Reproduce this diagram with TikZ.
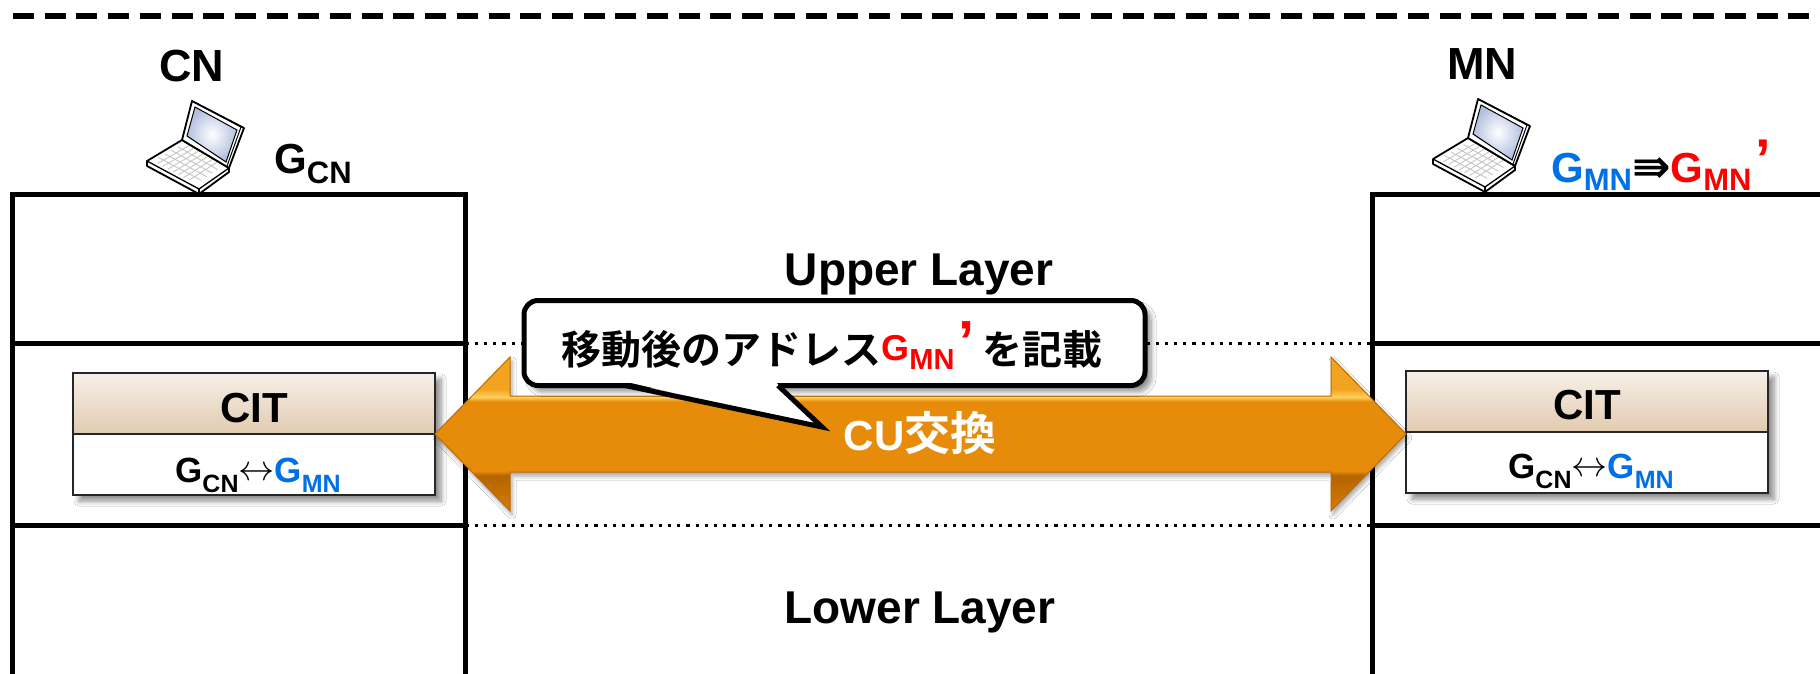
\documentclass[tikz,border=0pt]{standalone}
\usepackage{graphicx}
\usepackage{fontspec}
\setmainfont{Liberation Sans}
\newfontfamily\cjk{Noto Sans CJK JP}[BoldFont={Noto Sans CJK JP Bold}]
\newfontfamily\arrowfont{DejaVu Sans}
\usetikzlibrary{calc,shadows.blur}

\newcommand\setfs[1]{\fontsize{#1}{#1}\selectfont}
% lowered subscript: drop, size, text
\newcommand\subtxt[3]{\raisebox{-#1pt}{\setfs{#2}#3}}
% large prime mark after an address
\newcommand\bigprime[2]{\raisebox{#2pt}{\setfs{#1}’}}

\definecolor{gblue}{RGB}{0,112,230}
\definecolor{gred}{RGB}{255,0,0}
\definecolor{citTop}{RGB}{246,240,232}
\definecolor{citBot}{RGB}{226,202,176}
\definecolor{screenBlue}{RGB}{178,192,222}
\definecolor{arrowLow}{RGB}{214,124,6}
\definecolor{arrowDeep}{RGB}{180,100,0}
\definecolor{arrowMid}{RGB}{230,139,10}
\definecolor{arrowHi}{RGB}{255,208,95}
\definecolor{arrowTop}{RGB}{242,163,32}
\definecolor{arrowEdge}{RGB}{190,108,0}

% vertical shading of the exchange arrow (path box = 25bp..75bp)
\pgfdeclareverticalshading{cuarrow}{100bp}{%
  color(0bp)=(arrowLow); color(25bp)=(arrowLow);
  color(36.5bp)=(arrowDeep); color(38bp)=(arrowMid);
  color(60.5bp)=(arrowMid); color(62bp)=(arrowHi);
  color(64.5bp)=(arrowTop); color(75bp)=(arrowTop); color(100bp)=(arrowTop)}

\tikzset{
  laptop/.pic={
    % keyboard deck
    \filldraw[fill=white, draw=black, line width=1.8, line join=round]
      (0,61) -- (35,40) -- (82,68) -- (82,72) -- (52,94) -- (0,66) -- cycle;
    \draw[line width=1.3, line join=round] (0,61) -- (52,89) -- (82,68);
    \draw[line width=1.3] (52,89) -- (52,94);
    \foreach \t in {0.2,0.4,0.6,0.8}
      \draw[gray!45, line width=0.9] ($(37,43)!\t!(5,61)$) -- ($(76,66)!\t!(49,84)$);
    \foreach \t in {0.12,0.24,0.36,0.48,0.60,0.72,0.84}
      \draw[gray!45, line width=0.9] ($(37,43)!\t!(76,66)$) -- ($(5,61)!\t!(49,84)$);
    % lid with screen
    \filldraw[fill=white, draw=black, line width=1.8, line join=round]
      (35,40) -- (45,1) -- (97,28) -- (82,68) -- cycle;
    \draw[line width=1] (47,2) -- (94,27) -- (80,66);
    \shade[inner color=white, outer color=screenBlue]
      (40,36) -- (48,7) -- (90,30) -- (79,62) -- cycle;
    \draw[line width=1] (40,36) -- (48,7) -- (90,30) -- (79,62) -- cycle;
  },
  layer/.style={line width=5, line cap=rect},
  guide/.style={line width=3, dash pattern=on 3.3pt off 5.9pt},
  hostname/.style={anchor=base, inner sep=0, font=\bfseries\setfs{45}},
  layerlbl/.style={anchor=base, inner sep=0, font=\bfseries\setfs{46}},
  softshadow/.style={blur shadow={shadow xshift=6pt, shadow yshift=-6pt,
      shadow blur radius=5pt, shadow blur steps=8, shadow opacity=45}},
  citframe/.style={rectangle, inner sep=0, outer sep=0, minimum width=362,
      minimum height=122, fill=white, softshadow},
  cithead/.style={rectangle, inner sep=0, outer sep=0, minimum width=362,
      minimum height=61, draw=black!85, line width=2.5,
      top color=citTop, bottom color=citBot},
  citbody/.style={rectangle, inner sep=0, outer sep=0, minimum width=362,
      minimum height=61, draw=black!85, line width=2.5, fill=white},
  citlbl/.style={anchor=base, inner sep=0, font=\bfseries\setfs{42}},
  citmap/.style={anchor=base, inner sep=0, font=\bfseries\setfs{35}},
  notebox/.style={rectangle, rounded corners=14, draw=black, line width=5,
      fill=white, inner sep=0, outer sep=0, minimum width=621,
      minimum height=85, softshadow},
}
\newcommand\citmapping{G\subtxt{10}{25}{CN}\raisebox{2pt}{\scalebox{1.45}{$\leftrightarrow$}}{\color{gblue}G\subtxt{10}{25}{MN}}}

\begin{document}
\begin{tikzpicture}[x=1pt, y=-1pt]
\useasboundingbox (0,0) rectangle (1820,674);
\fill[white] (0,0) rectangle (1820,674);

% separator at the top
\draw[line width=6.5, dash pattern=on 21pt off 10.7pt] (13,16) -- (1840,16);

% protocol stack of CN
\draw[layer] (12.5,700) -- (12.5,194.5) -- (465.5,194.5) -- (465.5,700);
\draw[layer] (12.5,343) -- (465.5,343);
\draw[layer] (12.5,525) -- (465.5,525);
% protocol stack of MN
\draw[layer] (1372.5,700) -- (1372.5,194.5) -- (1850,194.5);
\draw[layer] (1372.5,343) -- (1850,343);
\draw[layer] (1372.5,525) -- (1850,525);

\coordinate (cnUp) at (465.5,343);
\coordinate (cnLow) at (465.5,525);
\coordinate (mnUp) at (1372.5,343);
\coordinate (mnLow) at (1372.5,525);
\draw[guide] (cnUp) -- (mnUp);
\draw[guide] (cnLow) -- (mnLow);

\node[layerlbl] (upper) at (919,285) {Upper Layer};
\node[layerlbl] (lower) at (920,623) {Lower Layer};

% hosts
\node[hostname] (cn) at (192,82) {CN};
\node[hostname] (mn) at (1482,80) {MN};
\pic at (147,100) {laptop};
\pic at (1433,98) {laptop};
\node[anchor=base west, inner sep=0, font=\bfseries\setfs{42}] (gcn) at (274,173)
  {G\subtxt{10}{31}{CN}};
\node[anchor=base west, inner sep=0, font=\bfseries\setfs{42}] (gmn) at (1551,182)
  {{\color{gblue}G\subtxt{9}{31}{MN}}{\arrowfont\setfs{46}⇛}{\color{gred}G\subtxt{9}{31}{MN}\hspace{4pt}\bigprime{56}{4}}};

% CIT tables
\node[citframe] (citL) at (254,434) {};
\node[cithead] (citLh) at (254,403.5) {};
\node[citbody] (citLb) at (254,464.5) {};
\node[citlbl] (citLt) at (254,422) {CIT};
\node[citmap] (citLm) at (258,482) {\citmapping};

\node[citframe] (citR) at (1587,432) {};
\node[cithead] (citRh) at (1587,401.5) {};
\node[citbody] (citRb) at (1587,462.5) {};
\node[citlbl] (citRt) at (1587,419) {CIT};
\node[citmap] (citRm) at (1591,478) {\citmapping};

% CU exchange arrow between the two tables
\coordinate (tipL) at (citL.east);
\coordinate (tipR) at (citR.west |- citL.east);
\shade[shading=cuarrow, draw=arrowEdge, line width=1, line join=miter,
  blur shadow={shadow xshift=2pt, shadow yshift=-4pt, shadow blur radius=4pt,
    shadow opacity=35}]
  (tipL) -- ++(75,-77) -- ++(0,39) -- ($(tipR)+(-75,-38)$) -- ++(0,-39)
  -- (tipR) -- ++(-75,77) -- ++(0,-39) -- ($(tipL)+(75,38)$) -- ++(0,39) -- cycle;
\node[anchor=base, inner sep=0, text=white] (cu) at (920,450)
  {{\bfseries\setfs{42}CU}{\cjk\bfseries\setfs{46}交換}};

% speech bubble
\node[notebox] (note) at (834.5,343) {};
\coordinate (tailA) at (625,385.5);
\coordinate (tailTip) at (822,427);
\coordinate (tailB) at (778,385.5);
\fill[white] ($(tailA)+(4,-3)$) -- ($(tailB)+(-2,-3)$) -- (tailTip) -- cycle;
\draw[line width=5, line join=miter] (tailA) -- (tailTip) -- (tailB);
\node[anchor=base, inner sep=0, font=\bfseries\setfs{40}] (notetext) at (832,364)
  {{\cjk 移動後のアドレス}\raisebox{4pt}{\color{gred}\setfs{36}G}{\color{gred}\subtxt{5}{29}{MN}\hspace{4pt}\bigprime{58}{3}}\hspace{8pt}{\cjk を記載}};
\end{tikzpicture}
\end{document}
